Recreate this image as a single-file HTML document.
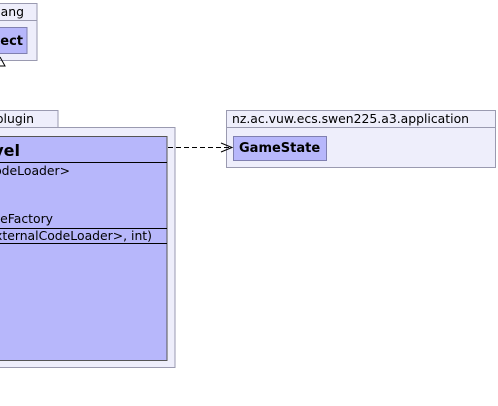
<!DOCTYPE html>
<html><head><style>body{margin:0;background:#fff}svg{display:block}</style></head><body>
<svg width="498" height="406" xmlns="http://www.w3.org/2000/svg" font-family="DejaVu Sans, Liberation Sans, sans-serif">
<g stroke="#9a9ab0" fill="#eeeefb" stroke-width="1">
<rect x="-5" y="3.5" width="42" height="17"/>
<rect x="-5" y="20.5" width="42" height="40"/>
<rect x="-5" y="110.5" width="63" height="17"/>
<rect x="-5" y="127.5" width="180" height="240"/>
<rect x="226.5" y="110.5" width="269" height="17"/>
<rect x="226.5" y="127.5" width="269" height="40"/>
</g>
<rect x="-5" y="27.5" width="32" height="26" fill="#b7b7fb" stroke="#8080b0"/>
<rect x="233.5" y="136.5" width="93" height="24" fill="#b7b7fb" stroke="#8080b0"/>
<rect x="-5" y="136.5" width="172" height="224" fill="#b7b7fb" stroke="#555"/>
<g stroke="#000">
<line x1="0" y1="162.5" x2="167" y2="162.5"/>
<line x1="0" y1="228.5" x2="167" y2="228.5"/>
<line x1="0" y1="243.5" x2="167" y2="243.5"/>
</g>
<path d="M0 57 L5 66 L0 66" fill="none" stroke="#000"/>
<line x1="168" y1="147.5" x2="232" y2="147.5" stroke="#000" stroke-dasharray="5,3"/>
<path d="M221 143 L232 147.5 L221 152" fill="none" stroke="#000"/>
<g font-size="12.4" fill="#000" text-anchor="end">
<text x="24" y="16">java.lang</text>
<text x="34" y="123">plugin</text>
<text x="70" y="175">ExternalCodeLoader&gt;</text>
<text x="53" y="223">GameFactory</text>
<text x="152" y="240">ExternalCodeLoader&gt;, int)</text>
</g>
<text x="23" y="45" font-size="13" font-weight="bold" text-anchor="end">Object</text>
<text x="20" y="156" font-size="16" font-weight="bold" text-anchor="end">Level</text>
<text x="232" y="123" font-size="12.4">nz.ac.vuw.ecs.swen225.a3.application</text>
<text x="239" y="152" font-size="13" font-weight="bold">GameState</text>
</svg>
</body></html>
